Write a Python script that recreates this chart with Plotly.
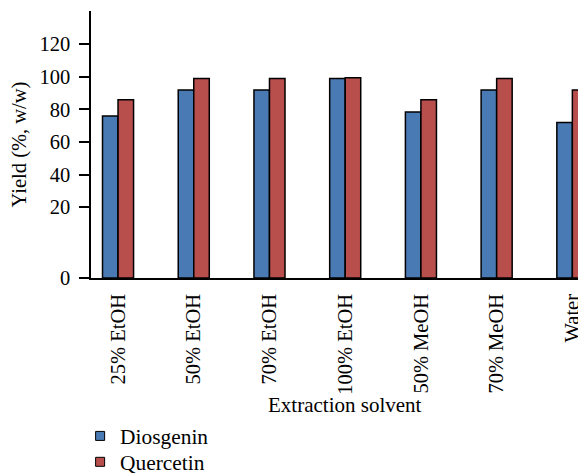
import plotly.graph_objects as go

categories = ["25% EtOH", "50% EtOH", "70% EtOH", "100% EtOH", "50% MeOH", "70% MeOH", "Water"]
diosgenin = [76, 92, 92, 99, 78.5, 92, 72]
quercetin = [86, 99, 99, 99.5, 86, 99, 92]

y_ticks = [20, 40, 60, 80, 100, 120]
y_tick_labels = ["20", "40", "60", "80", "100", "120"]
axis_bottom = -23.4  # the axis floor, labelled "0" in the source chart
axis_top = 140.4

FONT = "Liberation Serif"
BLUE = "#4a7ab3"
RED = "#b84f4d"

fig = go.Figure()
for name, vals, col, leg in [("Diosgenin", diosgenin, BLUE, "legend"),
                             ("Quercetin", quercetin, RED, "legend2")]:
    fig.add_trace(go.Bar(
        name=name,
        x=categories,
        y=[v - axis_bottom for v in vals],
        base=axis_bottom,
        showlegend=False,
        marker=dict(color=col, line=dict(color="black", width=1.5)),
    ))
    # legend-only entry with a small square key, as in the source
    fig.add_trace(go.Scatter(
        name=name, x=[None], y=[None], mode="markers",
        legend=leg, showlegend=True, hoverinfo="skip",
        marker=dict(symbol="square", size=9, color=col, line=dict(color="black", width=1)),
    ))

legend_common = dict(
    xanchor="left", yanchor="top",
    font=dict(family=FONT, size=21.4, color="black"),
    bgcolor="rgba(0,0,0,0)", borderwidth=0,
)

# page body has an 8px default margin; margins/size compensate for it
fig.update_layout(
    width=578, height=466, autosize=False,
    margin=dict(l=83, r=0, t=3, b=196, pad=0, autoexpand=False),
    paper_bgcolor="white", plot_bgcolor="white",
    barmode="group", bargap=0.59, bargroupgap=0,
    font=dict(family=FONT, size=20.5, color="black"),
    showlegend=True,
    legend=dict(x=-0.022, y=-0.515, **legend_common),
    legend2=dict(x=-0.022, y=-0.612, **legend_common),
    annotations=[dict(
        text="Extraction solvent", x=0.513, y=-0.4775,
        xref="paper", yref="paper", yanchor="middle",
        showarrow=False, font=dict(family=FONT, size=21, color="black"),
    )],
)

fig.update_xaxes(
    type="category", range=[-0.357, 6.18],
    showline=True, linecolor="black", linewidth=1.5,
    ticks="", tickangle=-90, showgrid=False, ticklabelstandoff=6,
    automargin=False,
    tickfont=dict(family=FONT, size=20.5, color="black"),
)
fig.update_yaxes(
    range=[axis_bottom, axis_top],
    tickmode="array",
    tickvals=[axis_bottom] + y_ticks,
    ticktext=["0"] + y_tick_labels,
    showline=True, linecolor="black", linewidth=1.5,
    ticks="outside", ticklen=10, tickwidth=1.5, tickcolor="black",
    showgrid=False, zeroline=False, ticklabelstandoff=5,
    automargin=False,
    tickfont=dict(family=FONT, size=20.5, color="black"),
    title=dict(text="Yield (%, w/w)", font=dict(family=FONT, size=20.5, color="black"), standoff=8),
)

fig.write_html("out.html")
